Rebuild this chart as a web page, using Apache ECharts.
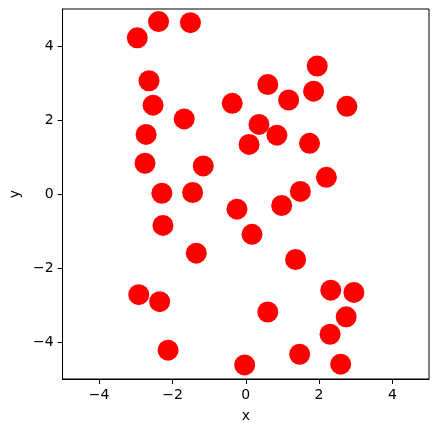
<!DOCTYPE html>
<html>
<head>
<meta charset="utf-8">
<script src="https://cdn.jsdelivr.net/npm/echarts@6/dist/echarts.min.js"></script>
<style>html,body{margin:0;padding:0;background:#fff}#c{width:439px;height:432px}</style>
</head>
<body>
<div id="c"></div>
<script>
const xs = [-2.96,-2.38,-1.51,-2.64,-2.53,-1.68,-2.72,-2.75,-1.16,-2.29,-1.45,
  1.95,0.60,1.85,-0.37,1.17,2.76,0.36,0.85,0.09,1.74,2.20,1.49,0.98,-0.24,
  -2.26,-1.35,-2.92,-2.35,-2.12,
  0.17,1.36,2.32,2.95,0.60,2.74,2.30,1.47,-0.03,2.59];
const ys = [4.22,4.66,4.63,3.06,2.40,2.03,1.61,0.83,0.76,0.02,0.04,
  3.46,2.96,2.78,2.45,2.54,2.37,1.88,1.59,1.34,1.37,0.45,0.07,-0.31,-0.41,
  -0.85,-1.60,-2.72,-2.91,-4.22,
  -1.09,-1.77,-2.60,-2.66,-3.19,-3.32,-3.79,-4.33,-4.62,-4.60];
const xTicks = [-4,-2,0,2,4];
const yTicks = [-4,-2,0,2,4];
const xName = 'x', yName = 'y';

const data = xs.map((x,i)=>[x,ys[i]]);
const fmt = v => (xTicks.includes(v) ? String(v).replace('-', '\u2212') : '');
const fmtY = v => (yTicks.includes(v) ? String(v).replace('-', '\u2212') : '');
const font = 'DejaVu Sans';
const chart = echarts.init(document.getElementById('c'), null, {renderer:'canvas'});
const axisCommon = {
  min:-5, max:5, interval:1,
  axisLine:{show:true, onZero:false, lineStyle:{color:'#000', width:1}},
  axisTick:{show:true, inside:false, length:5, lineStyle:{color:'#000', width:1}},
  splitLine:{show:false},
  nameTextStyle:{color:'#000', fontSize:14, fontFamily:font},
};
chart.setOption({
  animation:false,
  backgroundColor:'#fff',
  grid:{left:60, right:10, top:9, bottom:53, show:true, borderColor:'#000', borderWidth:1, containLabel:false},
  xAxis:Object.assign({}, axisCommon, {
    type:'value', name:xName, nameLocation:'middle', nameGap:30,
    axisLabel:{formatter:fmt, color:'#000', fontSize:14, fontFamily:font, margin:9, showMinLabel:true, showMaxLabel:true},
    axisTick:{show:true, length:5, lineStyle:{color:'#000'}, customValues:xTicks}
  }),
  yAxis:Object.assign({}, axisCommon, {
    type:'value', name:yName, nameLocation:'middle', nameGap:36, nameRotate:90,
    axisLabel:{formatter:fmtY, color:'#000', fontSize:14, fontFamily:font, margin:9},
    axisTick:{show:true, length:5, lineStyle:{color:'#000'}, customValues:yTicks}
  }),
  series:[{
    type:'scatter', data:data, symbol:'circle', symbolSize:21,
    itemStyle:{color:'#ff0000', opacity:1}
  }]
});
</script>
</body>
</html>
